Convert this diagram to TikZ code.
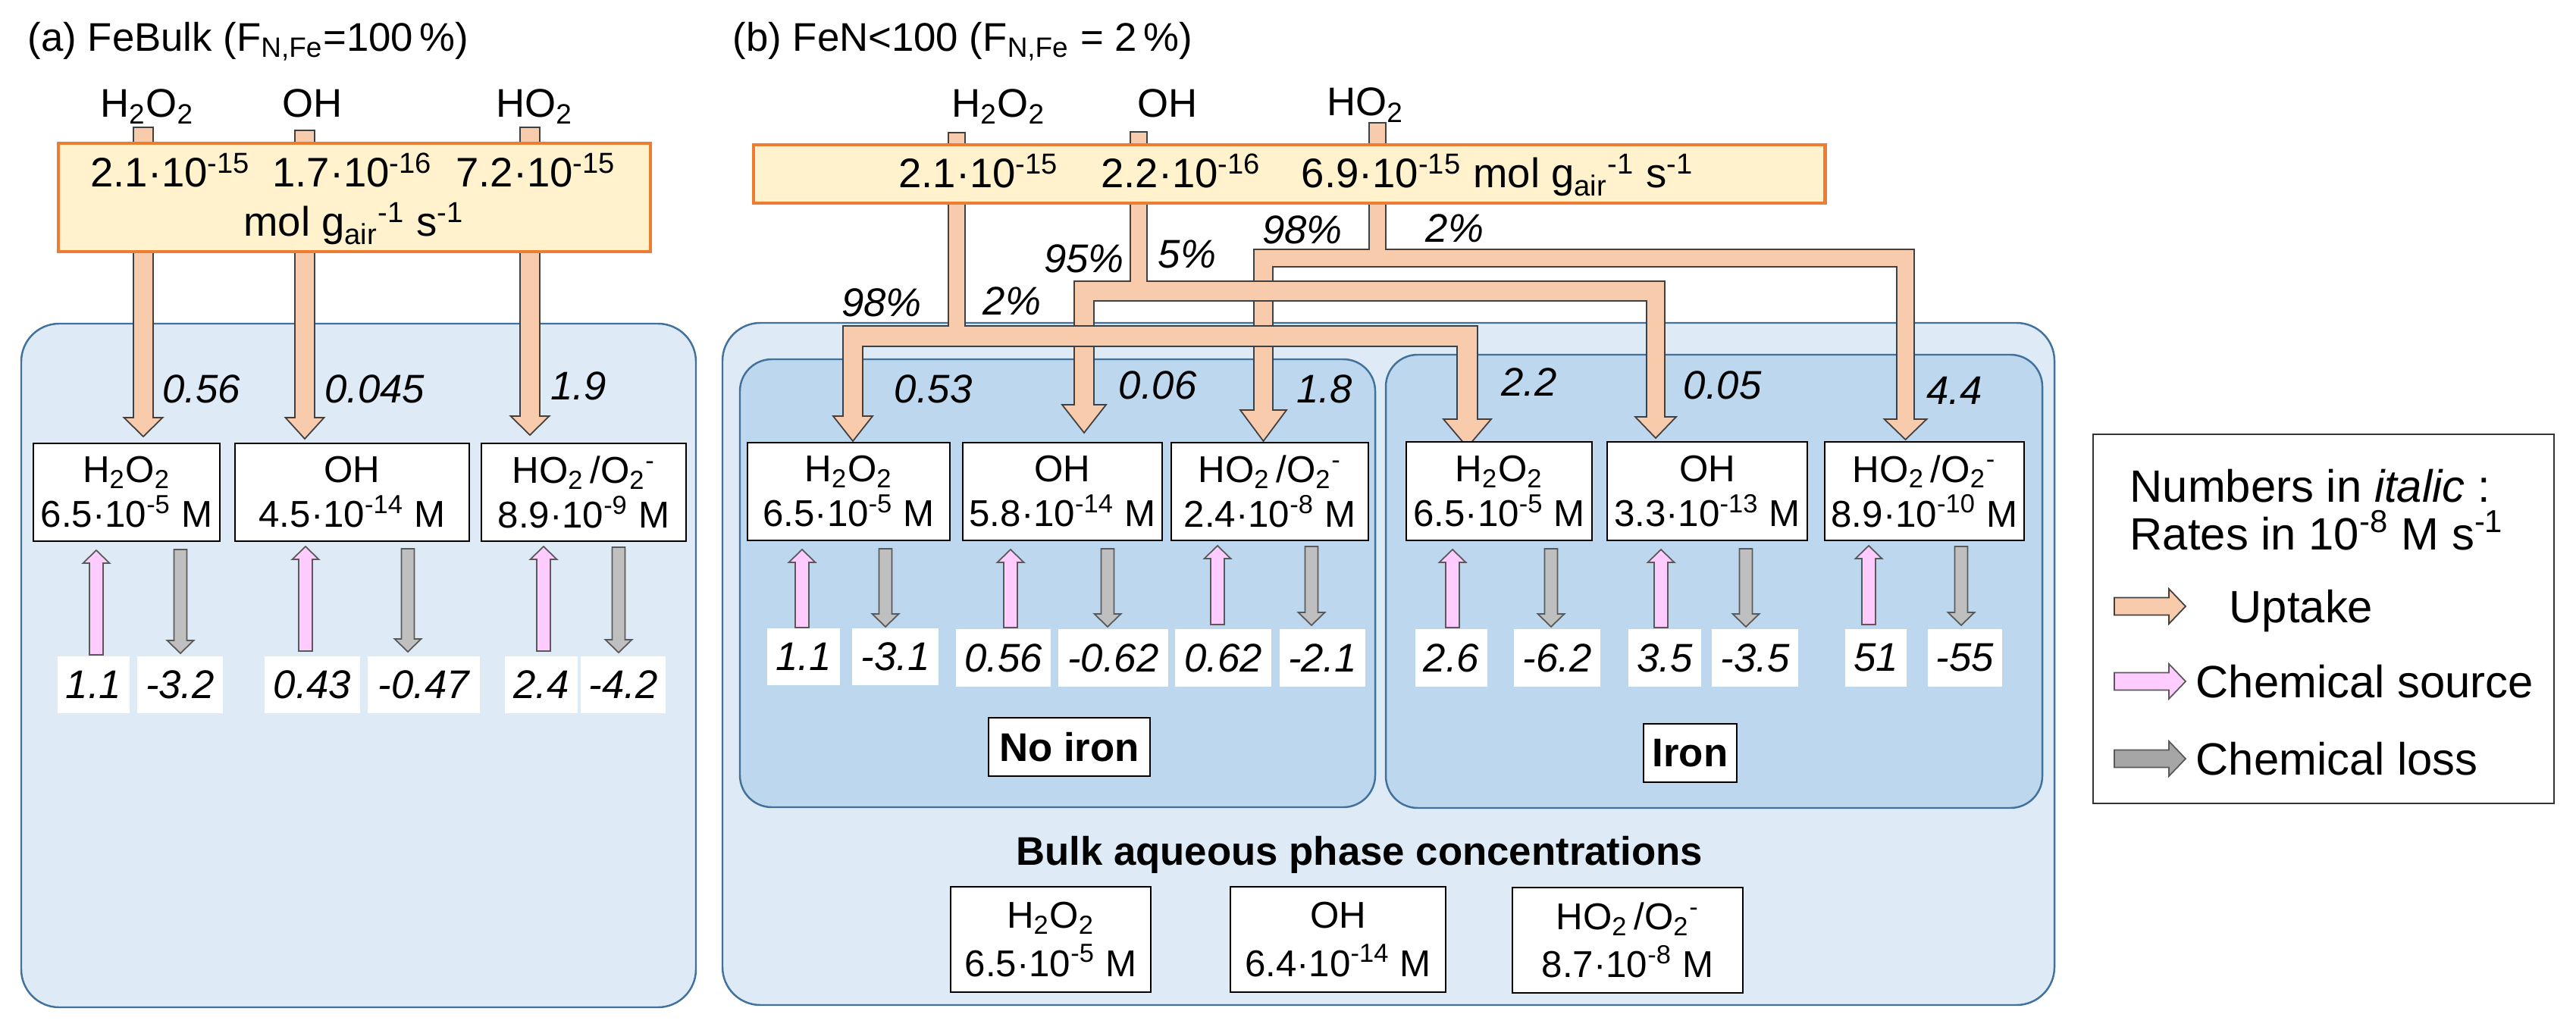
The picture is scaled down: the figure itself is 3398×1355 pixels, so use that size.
\documentclass[tikz,border=0pt]{standalone}
\usepackage{fontspec}
\setmainfont{Liberation Sans}
\definecolor{panelfill}{HTML}{DEEBF7}
\definecolor{innerfill}{HTML}{BDD7EE}
\definecolor{panelline}{HTML}{41719C}
\definecolor{fluxfill}{HTML}{FFF2CC}
\definecolor{fluxline}{HTML}{ED7D31}
\definecolor{uptfill}{HTML}{F8CBAD}
\definecolor{srcfill}{HTML}{FFCCFF}
\definecolor{lossfill}{HTML}{BFBFBF}
\definecolor{losslegend}{HTML}{A6A6A6}
\tikzset{
 outerpanel/.style={draw=panelline, fill=panelfill, line width=0.7pt, rounded corners=0.5cm, inner sep=0pt, outer sep=0pt},
 innerpanel/.style={draw=panelline, fill=innerfill, line width=0.7pt, rounded corners=0.42cm, inner sep=0pt, outer sep=0pt},
 fluxbox/.style={draw=fluxline, fill=fluxfill, line width=1.4pt, inner sep=0pt, outer sep=0pt},
 concbox/.style={draw=black, fill=white, line width=0.6pt, inner sep=0pt, outer sep=0pt, align=center, font=\fontsize{14}{16.8}\selectfont},
 bulkbox/.style={concbox, font=\fontsize{14}{18}\selectfont},
 valbox/.style={fill=white, inner sep=0pt, outer sep=0pt, font=\fontsize{15}{18}\selectfont\itshape},
 tagbox/.style={draw=black, fill=white, line width=0.6pt, inner sep=0pt, outer sep=0pt, font=\fontsize{15}{18}\selectfont\bfseries},
 legendbox/.style={draw=black!80, fill=white, line width=0.6pt, inner sep=0pt, outer sep=0pt},
 txt/.style={inner sep=0pt, font=\fontsize{15}{18}\selectfont},
 fluxtxt/.style={inner sep=0pt, font=\fontsize{15.5}{18}\selectfont},
 rate/.style={inner sep=0pt, font=\fontsize{15}{18}\selectfont\itshape},
 legtxt/.style={inner sep=0pt, font=\fontsize{17}{20}\selectfont},
 uptake/.style={fill=uptfill, draw=black!75, line width=0.5pt},
 srcarrow/.style={fill=srcfill, draw=black!65, line width=0.5pt},
 lossarrow/.style={fill=lossfill, draw=black!65, line width=0.5pt},
 losslegarrow/.style={fill=losslegend, draw=black!65, line width=0.5pt},
}
% box node: style, name, x1, y1, x2, y2, text
\newcommand{\bxnode}[7]{\node[#1, minimum width={(#5-#3)*0.01cm}, minimum height={(#6-#4)*0.01cm}] (#2) at ({(#3+#5)/2},{(#4+#6)/2}) {#7};}
% vertical block arrow: style, x, y start, y head base, y tip, shaft half, head half
\newcommand{\vblock}[7]{\draw[#1] ({#2-#6},#3) -- ({#2-#6},#4) -- ({#2-#7},#4) -- (#2,#5) -- ({#2+#7},#4) -- ({#2+#6},#4) -- ({#2+#6},#3) -- cycle;}
% horizontal block arrow: style, y, x start, x head base, x tip, shaft half, head half
\newcommand{\hblock}[7]{\draw[#1] (#3,{#2-#6}) -- (#4,{#2-#6}) -- (#4,{#2-#7}) -- (#5,#2) -- (#4,{#2+#7}) -- (#4,{#2+#6}) -- (#3,{#2+#6}) -- cycle;}
\newcommand{\HtwoOtwo}{H\textsubscript{2}O\textsubscript{2}}
\newcommand{\HOtwoion}{HO\textsubscript{2}\,/O\textsubscript{2}\textsuperscript{-}}
\begin{document}
\begin{tikzpicture}[x=0.01cm, y=-0.01cm, line join=miter]
\useasboundingbox (0,0) rectangle (3398,1355);
\fill[white] (0,0) rectangle (3398,1355);

% ---------------- panels ----------------
\bxnode{outerpanel}{panelA}{28}{427}{918}{1329}{}
\bxnode{outerpanel}{panelB}{953}{426}{2710}{1326}{}
\bxnode{innerpanel}{noironpanel}{976}{474}{1814}{1065}{}
\bxnode{innerpanel}{ironpanel}{1828}{468}{2694}{1066}{}

% ---------------- uptake arrows (a) ----------------
\vblock{uptake}{189}{168}{551}{576}{13}{25.5}
\vblock{uptake}{402}{172}{551}{579}{13}{25.5}
\vblock{uptake}{699}{168}{549}{574}{13}{25.5}

% ---------------- uptake arrows (b), split ----------------
% HO2
\draw[uptake] (1806,162) -- (1806,329) -- (1654,329) -- (1654,541) -- (1636,541) -- (1666.5,582) -- (1697,541) -- (1679,541) -- (1679,352) -- (2502,352) -- (2502,553) -- (2485.5,553) -- (2513.5,580) -- (2541.5,553) -- (2525,553) -- (2525,329) -- (1828,329) -- (1828,162) -- cycle;
% OH
\draw[uptake] (1491,174) -- (1491,371) -- (1417,371) -- (1417,534) -- (1401,534) -- (1430,571) -- (1459,534) -- (1443,534) -- (1443,397) -- (2172,397) -- (2172,550) -- (2157,550) -- (2184,578) -- (2211,550) -- (2196,550) -- (2196,371) -- (1513,371) -- (1513,174) -- cycle;
% H2O2
\draw[uptake] (1251,175) -- (1251,430) -- (1112,430) -- (1112,549) -- (1099,549) -- (1125,582) -- (1151,549) -- (1138,549) -- (1138,457) -- (1922,457) -- (1922,553) -- (1904,553) -- (1935.5,590) -- (1967,553) -- (1949,553) -- (1949,430) -- (1273,430) -- (1273,175) -- cycle;

% ---------------- flux boxes ----------------
\bxnode{fluxbox}{fluxA}{77}{189}{858}{332}{}
\bxnode{fluxbox}{fluxB}{994}{191}{2407}{268}{}
\node[fluxtxt, anchor=base] (fA1) at (225,247) {2.1·10\textsuperscript{-15}};
\node[fluxtxt, anchor=base] (fA2) at (465,247) {1.7·10\textsuperscript{-16}};
\node[fluxtxt, anchor=base] (fA3) at (707,247) {7.2·10\textsuperscript{-15}};
\node[fluxtxt, anchor=base] (fAunit) at (467,312) {mol g\textsubscript{air}\textsuperscript{-1} s\textsuperscript{-1}};
\node[fluxtxt, anchor=base] (fB1) at (1291,248) {2.1·10\textsuperscript{-15}};
\node[fluxtxt, anchor=base] (fB2) at (1558,248) {2.2·10\textsuperscript{-16}};
\node[fluxtxt, anchor=base west] (fB3) at (1716,248) {6.9·10\textsuperscript{-15} mol g\textsubscript{air}\textsuperscript{-1} s\textsuperscript{-1}};

% ---------------- titles and gas species ----------------
\node[txt, anchor=base west] (titleA) at (36,68) {(a) FeBulk (F\textsubscript{N,Fe}=100\,\%)};
\node[txt, anchor=base west] (titleB) at (966,68) {(b) FeN<100 (F\textsubscript{N,Fe} = 2\,\%)};
\node[txt, anchor=base] (gA1) at (194,155) {\HtwoOtwo};
\node[txt, anchor=base] (gA2) at (412,155) {OH};
\node[txt, anchor=base] (gA3) at (705,155) {HO\textsubscript{2}};
\node[txt, anchor=base] (gB1) at (1317,155) {\HtwoOtwo};
\node[txt, anchor=base] (gB2) at (1540,155) {OH};
\node[txt, anchor=base] (gB3) at (1801,153) {HO\textsubscript{2}};

% ---------------- percent labels ----------------
\node[rate] (p1) at (1163,399) {98\%};
\node[rate] (p2) at (1335,397) {2\%};
\node[rate] (p3) at (1430,341) {95\%};
\node[rate] (p4) at (1566,335) {5\%};
\node[rate] (p5) at (1718,303) {98\%};
\node[rate] (p6) at (1919,301) {2\%};

% ---------------- uptake rates ----------------
\node[rate] (rA1) at (266,513) {0.56};
\node[rate] (rA2) at (494,513) {0.045};
\node[rate] (rA3) at (763,509) {1.9};
\node[rate] (rB1) at (1231,513) {0.53};
\node[rate] (rB2) at (1527,508) {0.06};
\node[rate] (rB3) at (1747,513) {1.8};
\node[rate] (rB4) at (2017,504) {2.2};
\node[rate] (rB5) at (2272,508) {0.05};
\node[rate] (rB6) at (2578,515) {4.4};

% ---------------- concentration boxes ----------------
\bxnode{concbox}{cA1}{44}{585}{290}{714}{\HtwoOtwo\\6.5·10\textsuperscript{-5} M}
\bxnode{concbox}{cA2}{310}{585}{619}{714}{OH\\4.5·10\textsuperscript{-14} M}
\bxnode{concbox}{cA3}{635}{585}{905}{714}{\HOtwoion\\8.9·10\textsuperscript{-9} M}
\bxnode{concbox}{cN1}{986}{584}{1253}{713}{\HtwoOtwo\\6.5·10\textsuperscript{-5} M}
\bxnode{concbox}{cN2}{1270}{584}{1533}{713}{OH\\5.8·10\textsuperscript{-14} M}
\bxnode{concbox}{cN3}{1545}{584}{1805}{713}{\HOtwoion\\2.4·10\textsuperscript{-8} M}
\bxnode{concbox}{cI1}{1855}{583}{2100}{713}{\HtwoOtwo\\6.5·10\textsuperscript{-5} M}
\bxnode{concbox}{cI2}{2120}{583}{2384}{713}{OH\\3.3·10\textsuperscript{-13} M}
\bxnode{concbox}{cI3}{2407}{583}{2670}{713}{\HOtwoion\\8.9·10\textsuperscript{-10} M}

% ---------------- chemical source / loss arrows ----------------
\vblock{srcarrow}{127}{864}{743}{726}{9}{17.5}
\vblock{lossarrow}{238}{725}{845}{862}{8.5}{17.5}
\vblock{srcarrow}{403}{859}{738}{721}{9}{17.5}
\vblock{lossarrow}{538}{724}{843}{860}{8.5}{17.5}
\vblock{srcarrow}{717}{859}{738}{721}{9}{17.5}
\vblock{lossarrow}{816}{722}{844}{861}{8.5}{17.5}

\vblock{srcarrow}{1058}{828}{742}{725}{9}{17.5}
\vblock{lossarrow}{1168}{724}{810}{827}{8.5}{17.5}
\vblock{srcarrow}{1333}{828}{742}{725}{9}{17.5}
\vblock{lossarrow}{1461}{724}{810}{827}{8.5}{17.5}
\vblock{srcarrow}{1606}{824}{737}{720}{9}{17.5}
\vblock{lossarrow}{1730}{721}{808}{825}{8.5}{17.5}

\vblock{srcarrow}{1916}{828}{742}{725}{9}{17.5}
\vblock{lossarrow}{2046}{724}{810}{827}{8.5}{17.5}
\vblock{srcarrow}{2191}{828}{742}{725}{9}{17.5}
\vblock{lossarrow}{2303}{724}{810}{827}{8.5}{17.5}
\vblock{srcarrow}{2465}{824}{737}{720}{9}{17.5}
\vblock{lossarrow}{2587}{721}{808}{825}{8.5}{17.5}

% ---------------- value boxes ----------------
\bxnode{valbox}{vA1}{76}{866}{171}{941}{1.1}
\bxnode{valbox}{vA2}{181}{866}{294}{941}{-3.2}
\bxnode{valbox}{vA3}{349}{866}{475}{941}{0.43}
\bxnode{valbox}{vA4}{485}{866}{633}{941}{-0.47}
\bxnode{valbox}{vA5}{666}{866}{762}{941}{2.4}
\bxnode{valbox}{vA6}{766}{866}{878}{941}{-4.2}

\bxnode{valbox}{vN1}{1012}{829}{1108}{904}{1.1}
\bxnode{valbox}{vN2}{1124}{829}{1238}{904}{-3.1}
\bxnode{valbox}{vN3}{1261}{830}{1386}{906}{0.56}
\bxnode{valbox}{vN4}{1396}{830}{1541}{906}{-0.62}
\bxnode{valbox}{vN5}{1550}{830}{1677}{906}{0.62}
\bxnode{valbox}{vN6}{1688}{830}{1801}{906}{-2.1}

\bxnode{valbox}{vI1}{1867}{830}{1962}{906}{2.6}
\bxnode{valbox}{vI2}{1997}{830}{2111}{906}{-6.2}
\bxnode{valbox}{vI3}{2148}{830}{2244}{906}{3.5}
\bxnode{valbox}{vI4}{2258}{830}{2372}{906}{-3.5}
\bxnode{valbox}{vI5}{2434}{830}{2515}{906}{51}
\bxnode{valbox}{vI6}{2543}{830}{2641}{906}{-55}

% ---------------- tags ----------------
\bxnode{tagbox}{noiron}{1304}{947}{1517}{1024}{No iron}
\bxnode{tagbox}{iron}{2168}{955}{2291}{1032}{Iron}

% ---------------- bulk concentrations ----------------
\node[txt, font=\fontsize{15}{18}\selectfont\bfseries] (bulktitle) at (1793,1128) {Bulk aqueous phase concentrations};
\bxnode{bulkbox}{bulk1}{1254}{1170}{1518}{1309}{\HtwoOtwo\\6.5·10\textsuperscript{-5} M}
\bxnode{bulkbox}{bulk2}{1623}{1170}{1907}{1309}{OH\\6.4·10\textsuperscript{-14} M}
\bxnode{bulkbox}{bulk3}{1995}{1171}{2299}{1310}{\HOtwoion\\8.7·10\textsuperscript{-8} M}

% ---------------- legend ----------------
\bxnode{legendbox}{legend}{2761}{573}{3369}{1060}{}
\node[legtxt, anchor=base west] (leg1) at (2809,662) {Numbers in \textit{italic} :};
\node[legtxt, anchor=base west] (leg2) at (2809,725) {Rates in 10\textsuperscript{-8} M s\textsuperscript{-1}};
\hblock{uptake}{800}{2789}{2861}{2883}{11.5}{23}
\hblock{srcarrow}{899}{2789}{2861}{2883}{11.5}{23}
\hblock{losslegarrow}{1001}{2789}{2861}{2883}{11.5}{23}
\node[legtxt, anchor=base west] (leg3) at (2940,821) {Uptake};
\node[legtxt, anchor=base west] (leg4) at (2896,920) {Chemical source};
\node[legtxt, anchor=base west] (leg5) at (2896,1022) {Chemical loss};
\end{tikzpicture}
\end{document}
